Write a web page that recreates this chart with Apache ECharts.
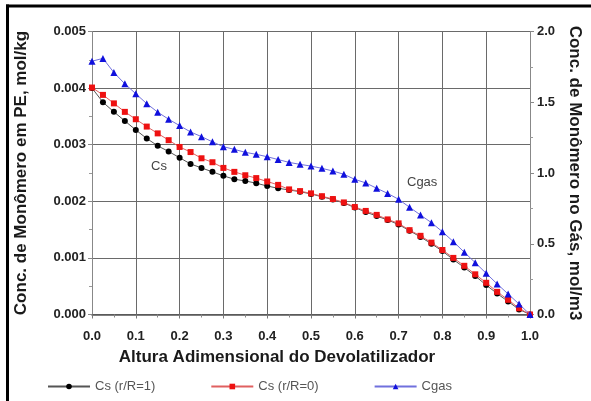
<!DOCTYPE html>
<html>
<head>
<meta charset="utf-8">
<script src="https://cdn.jsdelivr.net/npm/echarts@6/dist/echarts.min.js"></script>
<style>html,body{margin:0;padding:0;background:#fff}#c{width:591px;height:401px}</style>
</head>
<body>
<div id="c"></div>
<script>
// Dimensionless height positions (0 to 1, step 0.025)
var xs = [0,0.025,0.05,0.075,0.1,0.125,0.15,0.175,0.2,0.225,0.25,0.275,0.3,0.325,0.35,0.375,0.4,0.425,0.45,0.475,0.5,0.525,0.55,0.575,0.6,0.625,0.65,0.675,0.7,0.725,0.75,0.775,0.8,0.825,0.85,0.875,0.9,0.925,0.95,0.975,1.0];
// Cs (r/R=1), mol/kg
var csR1 = [0.00400,0.00375,0.00358,0.00342,0.00326,0.00311,0.00298,0.00288,0.00277,0.00266,0.00259,0.00252,0.00245,0.00239,0.00236,0.00232,0.00227,0.00223,0.00220,0.00217,0.00213,0.00208,0.00203,0.00197,0.00189,0.00181,0.00174,0.00167,0.00159,0.00148,0.00137,0.00125,0.00112,0.00097,0.00083,0.00068,0.00052,0.00037,0.00023,0.00009,0.00000];
// Cs (r/R=0), mol/kg
var csR0 = [0.00401,0.00388,0.00373,0.00358,0.00345,0.00332,0.00320,0.00308,0.00296,0.00287,0.00276,0.00269,0.00259,0.00252,0.00246,0.00241,0.00235,0.00229,0.00221,0.00218,0.00214,0.00209,0.00204,0.00198,0.00190,0.00183,0.00176,0.00168,0.00161,0.00149,0.00139,0.00127,0.00114,0.00100,0.00086,0.00071,0.00056,0.00040,0.00026,0.00011,0.00000];
// Cgas, mol/m3
var cgas = [1.79,1.81,1.71,1.63,1.56,1.49,1.43,1.38,1.335,1.29,1.257,1.22,1.186,1.167,1.146,1.132,1.115,1.095,1.075,1.061,1.049,1.033,1.014,0.991,0.955,0.93,0.892,0.856,0.814,0.758,0.703,0.649,0.585,0.515,0.44,0.366,0.291,0.216,0.145,0.074,0.0];

var seriesNames = ['Cs (r/R=1)', 'Cs (r/R=0)', 'Cgas'];
var xName = 'Altura Adimensional do Devolatilizador';
var yLeftName = 'Conc. de Monômero em PE, mol/kg';
var yRightName = 'Conc. de Monômero no Gás, mol/m3';

function pairs(v){ return xs.map(function(x,i){ return [x, v[i]]; }); }

var FONT = '"Liberation Sans", Arial, sans-serif';
var chart = echarts.init(document.getElementById('c'), null, {renderer:'canvas'});
var gridColor = '#6a6a6a';
var titleStyle = {fontFamily: FONT, fontWeight: 'bold', fontSize: 17, color: '#1a1a1a'};
chart.setOption({
  animation: false,
  backgroundColor: '#fff',
  textStyle: {fontFamily: FONT},
  grid: {left: 92, right: 57.5, top: 31.5, bottom: 86.5, containLabel: false},
  xAxis: {
    type: 'value', min: 0, max: 1, interval: 0.1,
    name: xName, nameLocation: 'middle', nameGap: 34,
    nameTextStyle: Object.assign({}, titleStyle, {padding: [0, 68, 0, 0]}),
    axisLine: {show: true, lineStyle: {color: '#555', width: 1.5}},
    axisTick: {show: true, inside: false, length: 4, lineStyle: {color: '#777'}},
    minorTick: {show: true, splitNumber: 2, length: 3, lineStyle: {color: '#888'}},
    axisLabel: {margin: 15, fontFamily: FONT, fontWeight: 'bold', fontSize: 13, color: '#222',
      formatter: function(v){ return v.toFixed(1); }},
    splitLine: {show: true, lineStyle: {color: gridColor, width: 1}}
  },
  yAxis: [{
    type: 'value', min: 0, max: 0.005, interval: 0.001, position: 'left',
    name: yLeftName, nameLocation: 'middle', nameGap: 62, nameRotate: 90,
    nameTextStyle: titleStyle,
    axisLine: {show: true, lineStyle: {color: '#888', width: 1}},
    axisTick: {show: true, length: 4, lineStyle: {color: '#888'}},
    minorTick: {show: true, splitNumber: 2, length: 3, lineStyle: {color: '#999'}},
    axisLabel: {margin: 6, fontFamily: FONT, fontWeight: 'bold', fontSize: 13, color: '#222',
      formatter: function(v){ return v.toFixed(3); }},
    splitLine: {show: true, lineStyle: {color: gridColor, width: 1}}
  },{
    type: 'value', min: 0, max: 2, interval: 0.5, position: 'right',
    name: yRightName, nameLocation: 'middle', nameGap: 36, nameRotate: -90,
    nameTextStyle: titleStyle,
    axisLine: {show: true, lineStyle: {color: '#888', width: 1}},
    axisTick: {show: true, length: 4, lineStyle: {color: '#888'}},
    minorTick: {show: true, splitNumber: 2, length: 3, lineStyle: {color: '#999'}},
    axisLabel: {margin: 7, fontFamily: FONT, fontWeight: 'bold', fontSize: 13, color: '#222',
      formatter: function(v){ return v.toFixed(1); }},
    splitLine: {show: false}
  }],
  legend: {
    bottom: 3, left: 42, itemGap: 55, itemWidth: 42, itemHeight: 7,
    textStyle: {fontFamily: FONT, fontSize: 13, color: '#555'},
    data: seriesNames
  },
  series: [{
    name: seriesNames[0], type: 'line', data: pairs(csR1), yAxisIndex: 0,
    symbol: 'circle', symbolSize: 6, itemStyle: {color: '#000'},
    lineStyle: {color: '#555', width: 1}, z: 2
  },{
    name: seriesNames[1], type: 'line', data: pairs(csR0), yAxisIndex: 0,
    symbol: 'rect', symbolSize: 6, itemStyle: {color: '#ee1111'},
    lineStyle: {color: '#e06060', width: 1}, z: 3
  },{
    name: seriesNames[2], type: 'line', data: pairs(cgas), yAxisIndex: 1,
    symbol: 'triangle', symbolSize: 7, itemStyle: {color: '#1010dd'},
    lineStyle: {color: '#7070dd', width: 1}, z: 4
  }],
  graphic: [
    {type: 'rect', shape: {x: 6, y: 4.5, width: 585, height: 3}, style: {fill: '#000'}, silent: true},
    {type: 'rect', shape: {x: 6, y: 4.5, width: 3, height: 397}, style: {fill: '#000'}, silent: true},
    {type: 'text', left: 151, top: 160, style: {text: 'Cs', font: '13px ' + FONT, fill: '#444'}},
    {type: 'text', left: 407, top: 176, style: {text: 'Cgas', font: '13px ' + FONT, fill: '#444'}}
  ]
});
</script>
</body>
</html>
